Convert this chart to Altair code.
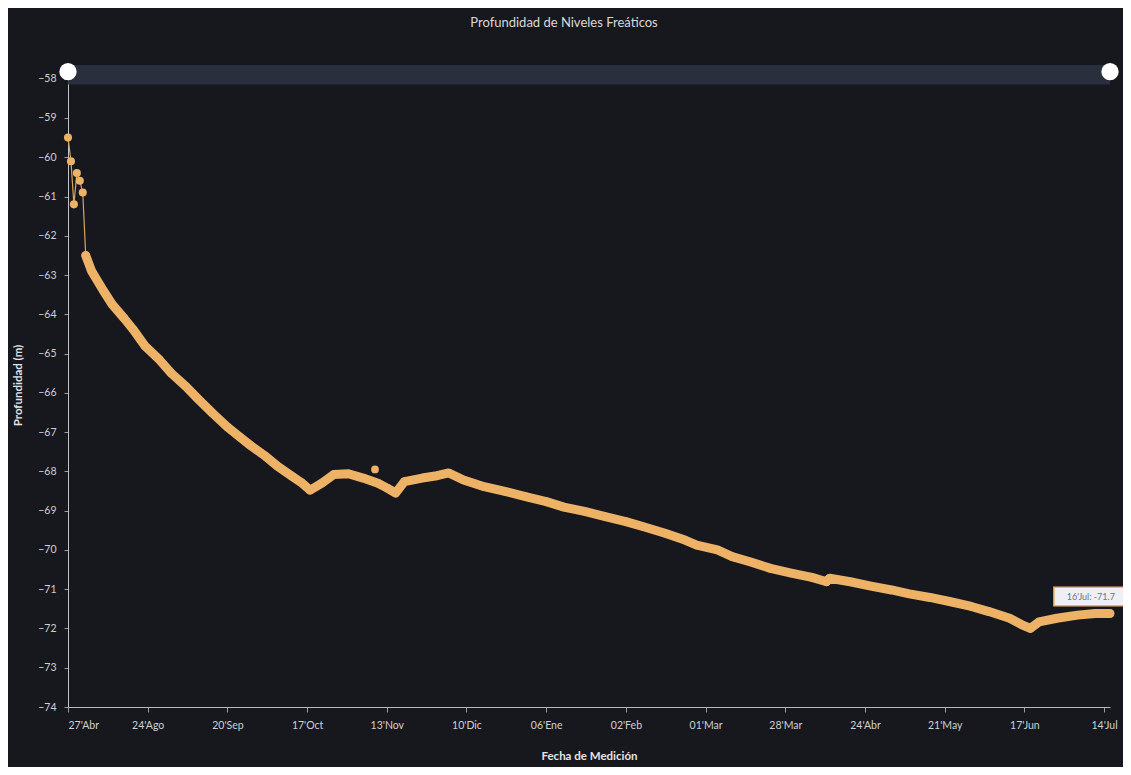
import json
import altair as alt
import pandas as pd

# ---- data ----
tick_labels = ["27'Abr", "24'Ago", "20'Sep", "17'Oct", "13'Nov", "10'Dic", "06'Ene",
               "02'Feb", "01'Mar", "28'Mar", "24'Abr", "21'May", "17'Jun", "14'Jul"]
tick_step = 27

# measurement number (position on the axis) and depth (m)
idx = [0, 1, 2, 3, 4, 5, 6, 8, 12, 15, 19, 22, 26, 31, 35, 40, 44, 49, 54, 58, 62, 67,
       71, 76, 79, 82, 86, 90, 95, 100, 105, 108, 111, 114, 120, 125, 129, 134, 141,
       148, 155, 162, 168, 175, 182, 189, 195, 202, 209, 213, 220, 225, 231, 238, 245,
       252, 257, 258, 265, 272, 279, 285, 292, 299, 306, 312, 319, 323, 326, 329, 335,
       342, 348, 353]
depth = [-59.5, -60.1, -61.2, -60.4, -60.6, -60.9, -62.5, -62.9, -63.4, -63.75, -64.1,
         -64.38, -64.8, -65.16, -65.5, -65.84, -66.15, -66.52, -66.87, -67.11, -67.35,
         -67.62, -67.87, -68.13, -68.28, -68.48, -68.3, -68.08, -68.06, -68.17, -68.3,
         -68.42, -68.55, -68.26, -68.17, -68.11, -68.04, -68.22, -68.39, -68.51, -68.64,
         -68.77, -68.91, -69.02, -69.15, -69.28, -69.41, -69.57, -69.75, -69.88, -70.0,
         -70.17, -70.3, -70.47, -70.59, -70.7, -70.81, -70.72, -70.81, -70.92, -71.02,
         -71.12, -71.21, -71.32, -71.44, -71.57, -71.74, -71.9, -72.0, -71.83, -71.74,
         -71.66, -71.62, -71.62]
outlier_idx = [104]
outlier_depth = [-67.95]

last_label = "16'Jul: -71.7"

y_ticks = list(range(-58, -75, -1))

# ---- tables ----
df = pd.DataFrame({"idx": idx, "depth": depth})
dense = df[df["idx"] >= 6]
out_df = pd.DataFrame({"idx": outlier_idx, "depth": outlier_depth})
x_max = max(idx)
band_df = pd.DataFrame({"x0": [0], "x1": [x_max], "y0": [-57.65], "y1": [-58.15]})
handle_df = pd.DataFrame({"idx": [0, x_max], "depth": [-57.82, -57.82]})
tip_df = pd.DataFrame({"x0": [334], "x1": [359], "y0": [-70.95], "y1": [-71.42],
                       "xm": [346.5], "ym": [-71.19], "t": [last_label]})

FONT = "Lato"
ORANGE = "#eeb266"
BG = "#16181e"

x_scale = alt.Scale(domain=[0, x_max], nice=False, zero=False)
y_scale = alt.Scale(domain=[-74, -57.6], nice=False, zero=False)

labels_js = json.dumps(tick_labels)
x_axis = alt.Axis(
    title="Fecha de Medición",
    values=[i * tick_step for i in range(len(tick_labels))],
    labelExpr=f"{labels_js}[round(datum.value/{tick_step})]",
    grid=False, domainColor="#b8b8c0", tickColor="#9a9aa0", tickSize=5,
    labelColor="#d0d0d0", labelFontSize=10.5, labelPadding=8, labelFont=FONT,
    titleColor="#e4e4e4", titleFontSize=11.5, titleFontWeight="bold", titleFont=FONT,
    titlePadding=20,
)
y_axis = alt.Axis(
    title="Profundidad (m)", values=y_ticks, format="d",
    grid=False, domainColor="#c4c4cc", tickColor="#9a9aa0", tickSize=4,
    labelColor="#d0d0d0", labelFontSize=10.5, labelPadding=8, labelFont=FONT,
    titleColor="#e4e4e4", titleFontSize=11.5, titleFontWeight="bold", titleFont=FONT,
    titleX=-50, titleBaseline="middle",
)

band = alt.Chart(band_df).mark_rect(color="#2c3240", opacity=0.9).encode(
    x=alt.X("x0:Q", scale=x_scale, axis=x_axis),
    x2="x1:Q",
    y=alt.Y("y0:Q", scale=y_scale, axis=y_axis),
    y2="y1:Q",
)
handles = alt.Chart(handle_df).mark_circle(color="#ffffff", opacity=1, size=300).encode(
    x=alt.X("idx:Q", scale=x_scale), y=alt.Y("depth:Q", scale=y_scale)
)
thin = alt.Chart(df).mark_line(color="#d9a55a", strokeWidth=1.2).encode(
    x=alt.X("idx:Q", scale=x_scale), y=alt.Y("depth:Q", scale=y_scale)
)
thick = alt.Chart(dense).mark_line(color=ORANGE, strokeWidth=9, strokeCap="round",
                                   strokeJoin="round").encode(
    x=alt.X("idx:Q", scale=x_scale), y=alt.Y("depth:Q", scale=y_scale)
)
pts = alt.Chart(df).mark_circle(color=ORANGE, opacity=1, size=65).encode(
    x=alt.X("idx:Q", scale=x_scale), y=alt.Y("depth:Q", scale=y_scale)
)
outl = alt.Chart(out_df).mark_circle(color=ORANGE, opacity=1, size=60).encode(
    x=alt.X("idx:Q", scale=x_scale), y=alt.Y("depth:Q", scale=y_scale)
)
tip_box = alt.Chart(tip_df).mark_rect(fill="#eef0f4", stroke=ORANGE, strokeWidth=1.5).encode(
    x=alt.X("x0:Q", scale=x_scale), x2="x1:Q",
    y=alt.Y("y0:Q", scale=y_scale), y2="y1:Q",
)
tip_text = alt.Chart(tip_df).mark_text(color="#6a7488", fontSize=9, font=FONT).encode(
    x=alt.X("xm:Q", scale=x_scale), y=alt.Y("ym:Q", scale=y_scale), text="t:N"
)

chart = alt.layer(band, handles, thin, thick, pts, outl, tip_box, tip_text).properties(
    width=1042, height=644,
    title=alt.TitleParams("Profundidad de Niveles Freáticos", color="#d8d8d8",
                          fontSize=13, fontWeight="normal", font=FONT,
                          anchor="middle", offset=33, dx=-25),
    background=BG,
    padding={"left": 60, "top": 55, "right": 13, "bottom": 60},
    autosize=alt.AutoSizeParams(type="none"),
).configure_view(stroke=None)

chart.save("out.html", embed_options={"renderer": "svg", "actions": False})
